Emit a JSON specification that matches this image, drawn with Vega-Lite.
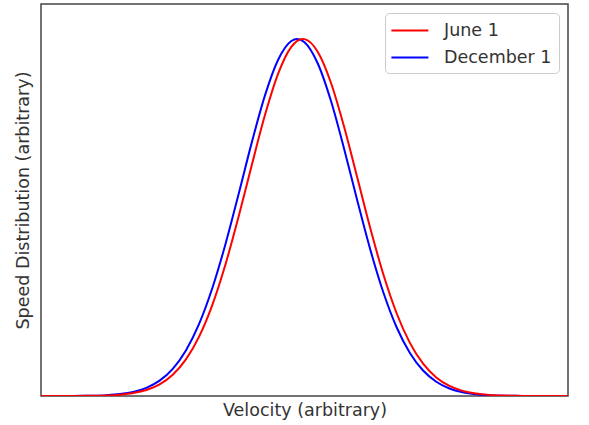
{
  "$schema": "https://vega.github.io/schema/vega-lite/v6.json",
  "width": 527,
  "height": 392,
  "autosize": {"type": "none"},
  "padding": {"left": 41, "top": 4, "right": 21, "bottom": 29},
  "background": "white",
  "config": {
    "view": {"stroke": "#444444", "strokeWidth": 1.5},
    "font": "DejaVu Sans",
    "axis": {"domain": false, "ticks": false, "labels": false, "grid": false, "titleFont": "DejaVu Sans", "titleFontSize": 17.5, "titleFontWeight": "normal", "titleColor": "#333333"},
    "legend": {"labelFont": "DejaVu Sans", "labelFontSize": 17.5, "labelColor": "#333333"}
  },
  "data": {"values": [
    {"v": 0, "f": 0.00002, "s": "December 1"},
    {"v": 25, "f": 0.00005, "s": "December 1"},
    {"v": 50, "f": 0.00015, "s": "December 1"},
    {"v": 75, "f": 0.00041, "s": "December 1"},
    {"v": 100, "f": 0.00102, "s": "December 1"},
    {"v": 125, "f": 0.00242, "s": "December 1"},
    {"v": 150, "f": 0.00541, "s": "December 1"},
    {"v": 175, "f": 0.01143, "s": "December 1"},
    {"v": 200, "f": 0.0228, "s": "December 1"},
    {"v": 225, "f": 0.0429, "s": "December 1"},
    {"v": 250, "f": 0.07616, "s": "December 1"},
    {"v": 275, "f": 0.1277, "s": "December 1"},
    {"v": 300, "f": 0.202, "s": "December 1"},
    {"v": 325, "f": 0.3018, "s": "December 1"},
    {"v": 350, "f": 0.4253, "s": "December 1"},
    {"v": 375, "f": 0.5657, "s": "December 1"},
    {"v": 400, "f": 0.7104, "s": "December 1"},
    {"v": 425, "f": 0.842, "s": "December 1"},
    {"v": 450, "f": 0.9419, "s": "December 1"},
    {"v": 475, "f": 0.9944, "s": "December 1"},
    {"v": 486, "f": 1.0, "s": "December 1"},
    {"v": 500, "f": 0.991, "s": "December 1"},
    {"v": 525, "f": 0.9321, "s": "December 1"},
    {"v": 550, "f": 0.8275, "s": "December 1"},
    {"v": 575, "f": 0.6934, "s": "December 1"},
    {"v": 600, "f": 0.5484, "s": "December 1"},
    {"v": 625, "f": 0.4093, "s": "December 1"},
    {"v": 650, "f": 0.2884, "s": "December 1"},
    {"v": 675, "f": 0.1918, "s": "December 1"},
    {"v": 700, "f": 0.1204, "s": "December 1"},
    {"v": 725, "f": 0.07132, "s": "December 1"},
    {"v": 750, "f": 0.03989, "s": "December 1"},
    {"v": 775, "f": 0.02105, "s": "December 1"},
    {"v": 800, "f": 0.01047, "s": "December 1"},
    {"v": 825, "f": 0.00493, "s": "December 1"},
    {"v": 850, "f": 0.00219, "s": "December 1"},
    {"v": 875, "f": 0.00092, "s": "December 1"},
    {"v": 900, "f": 0.00036, "s": "December 1"},
    {"v": 925, "f": 0.00014, "s": "December 1"},
    {"v": 950, "f": 0.00005, "s": "December 1"},
    {"v": 975, "f": 0.00002, "s": "December 1"},
    {"v": 1000, "f": 0.00001, "s": "December 1"},
    {"v": 0, "f": 0.00001, "s": "June 1"},
    {"v": 25, "f": 0.00003, "s": "June 1"},
    {"v": 50, "f": 0.0001, "s": "June 1"},
    {"v": 75, "f": 0.00027, "s": "June 1"},
    {"v": 100, "f": 0.00069, "s": "June 1"},
    {"v": 125, "f": 0.00167, "s": "June 1"},
    {"v": 150, "f": 0.00383, "s": "June 1"},
    {"v": 175, "f": 0.00829, "s": "June 1"},
    {"v": 200, "f": 0.01694, "s": "June 1"},
    {"v": 225, "f": 0.03271, "s": "June 1"},
    {"v": 250, "f": 0.05958, "s": "June 1"},
    {"v": 275, "f": 0.1025, "s": "June 1"},
    {"v": 300, "f": 0.1663, "s": "June 1"},
    {"v": 325, "f": 0.2547, "s": "June 1"},
    {"v": 350, "f": 0.3683, "s": "June 1"},
    {"v": 375, "f": 0.5025, "s": "June 1"},
    {"v": 400, "f": 0.6473, "s": "June 1"},
    {"v": 425, "f": 0.7869, "s": "June 1"},
    {"v": 450, "f": 0.9029, "s": "June 1"},
    {"v": 475, "f": 0.9779, "s": "June 1"},
    {"v": 497, "f": 1.0, "s": "June 1"},
    {"v": 500, "f": 0.9996, "s": "June 1"},
    {"v": 525, "f": 0.9644, "s": "June 1"},
    {"v": 550, "f": 0.8782, "s": "June 1"},
    {"v": 575, "f": 0.7549, "s": "June 1"},
    {"v": 600, "f": 0.6124, "s": "June 1"},
    {"v": 625, "f": 0.4689, "s": "June 1"},
    {"v": 650, "f": 0.3389, "s": "June 1"},
    {"v": 675, "f": 0.2311, "s": "June 1"},
    {"v": 700, "f": 0.1488, "s": "June 1"},
    {"v": 725, "f": 0.09044, "s": "June 1"},
    {"v": 750, "f": 0.05187, "s": "June 1"},
    {"v": 775, "f": 0.02807, "s": "June 1"},
    {"v": 800, "f": 0.01435, "s": "June 1"},
    {"v": 825, "f": 0.00692, "s": "June 1"},
    {"v": 850, "f": 0.00315, "s": "June 1"},
    {"v": 875, "f": 0.00135, "s": "June 1"},
    {"v": 900, "f": 0.00055, "s": "June 1"},
    {"v": 925, "f": 0.00021, "s": "June 1"},
    {"v": 950, "f": 0.00008, "s": "June 1"},
    {"v": 975, "f": 0.00003, "s": "June 1"},
    {"v": 1000, "f": 0.00001, "s": "June 1"}
  ]},
  "mark": {"type": "line", "strokeWidth": 2, "interpolate": "monotone", "clip": true},
  "encoding": {
    "x": {"field": "v", "type": "quantitative", "scale": {"domain": [0, 1000], "nice": false, "zero": false}, "axis": {"title": "Velocity (arbitrary)", "titlePadding": 5}},
    "y": {"field": "f", "type": "quantitative", "scale": {"domain": [0, 1.098], "nice": false}, "axis": {"title": "Speed Distribution (arbitrary)", "titlePadding": 9}},
    "color": {
      "field": "s", "type": "nominal",
      "scale": {"domain": ["June 1", "December 1"], "range": ["#ff0000", "#0000ff"]},
      "legend": {
        "title": null, "orient": "none", "legendX": 344, "legendY": 9,
        "symbolType": "M-1.2,0H2.8", "symbolSize": 342, "symbolStrokeWidth": 2,
        "strokeColor": "#cccccc", "fillColor": "white", "cornerRadius": 4, "padding": 7,
        "labelOffset": 31, "rowPadding": 8
      }
    }
  }
}
